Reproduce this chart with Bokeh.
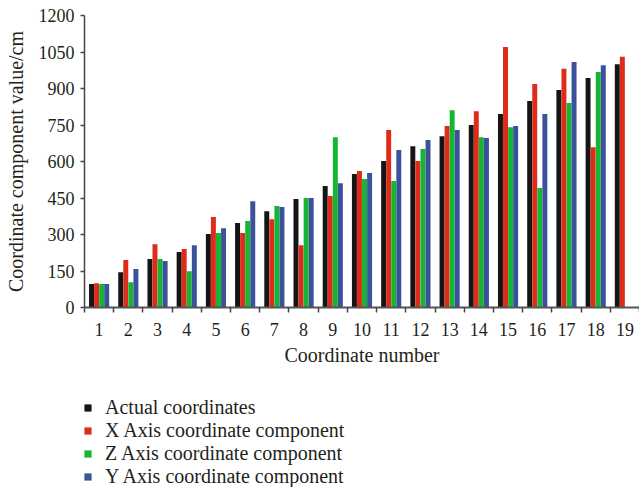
from bokeh.plotting import figure
from bokeh.layouts import column
from bokeh.models import ColumnDataSource, Range1d, FixedTicker, Legend, LegendItem
from bokeh.transform import dodge
from bokeh.embed import file_html
from bokeh.resources import INLINE

numbers = list(range(1, 20))
tick_labels = [str(n) for n in numbers]
actual = [97, 145, 199, 228, 302, 347, 396, 446, 499, 549, 602, 663, 704, 750, 795, 849, 894, 943, 1000]
x_comp = [100, 195, 260, 240, 372, 306, 363, 256, 458, 561, 729, 602, 746, 807, 1071, 919, 981, 659, 1030]
z_comp = [97, 104, 199, 149, 306, 355, 417, 450, 700, 528, 520, 651, 811, 700, 741, 491, 840, 968, None]
y_comp = [97, 158, 191, 256, 326, 437, 413, 450, 511, 553, 647, 688, 729, 697, 746, 795, 1009, 996, None]

series_names = ["Actual coordinates", "X Axis coordinate component",
                "Z Axis coordinate component", "Y Axis coordinate component"]
series_values = [actual, x_comp, z_comp, y_comp]
series_colors = ["#151515", "#dd2c1a", "#17b534", "#3a5299"]
offsets = [-0.26, -0.087, 0.087, 0.26]

FONT = "Liberation Serif"
TXT = "#231f20"

main = figure(width=639, height=390, output_backend="svg", toolbar_location=None,
              x_range=Range1d(0.5, 19.5), y_range=Range1d(0, 1200),
              min_border_left=84, min_border_right=0, min_border_top=15, min_border_bottom=83)
main.outline_line_color = None
main.grid.visible = False

leg = figure(width=639, height=97, output_backend="svg", toolbar_location=None,
             x_range=Range1d(0, 1), y_range=Range1d(0, 1),
             x_axis_type=None, y_axis_type=None,
             min_border_left=0, min_border_right=0, min_border_top=0, min_border_bottom=0)
leg.outline_line_color = None
leg.grid.visible = False

items = []
for name, vals, color, off in zip(series_names, series_values, series_colors, offsets):
    xs = [n for n, v in zip(numbers, vals) if v is not None]
    ys = [v for v in vals if v is not None]
    src = ColumnDataSource(dict(x=xs, top=ys))
    main.vbar(x=dodge("x", off), top="top", bottom=0, width=0.17, source=src,
              fill_color=color, line_color=None)
    # legend proxy (placed outside the visible range of the legend strip)
    lr = leg.vbar(x=[-10], top=[0], bottom=[0], width=0.1, fill_color=color, line_color=None)
    items.append(LegendItem(label=name, renderers=[lr]))

xa = main.xaxis[0]
xa.ticker = FixedTicker(ticks=numbers, minor_ticks=[n - 0.5 for n in numbers] + [19.5])
xa.major_label_overrides = {n: s for n, s in zip(numbers, tick_labels)}
xa.major_tick_out = 0
xa.major_tick_in = 0
xa.minor_tick_out = 5
xa.minor_tick_in = 0
xa.minor_tick_line_color = "#444444"
xa.minor_tick_line_width = 1.5
xa.axis_line_color = "#555555"
xa.axis_line_width = 2
xa.major_label_standoff = 10
xa.major_label_text_font = FONT
xa.major_label_text_font_size = "18px"
xa.major_label_text_color = TXT
xa.axis_label = "Coordinate number"
xa.axis_label_text_font = FONT
xa.axis_label_text_font_size = "20px"
xa.axis_label_text_font_style = "normal"
xa.axis_label_text_color = TXT
xa.axis_label_standoff = 5

ya = main.yaxis[0]
ya.ticker = FixedTicker(ticks=[0, 150, 300, 450, 600, 750, 900, 1050, 1200], minor_ticks=[])
ya.major_tick_out = 4
ya.major_tick_in = 0
ya.major_tick_line_color = "#444444"
ya.major_tick_line_width = 1.5
ya.axis_line_color = "#444444"
ya.axis_line_width = 1.5
ya.major_label_standoff = 6
ya.major_label_text_font = FONT
ya.major_label_text_font_size = "18px"
ya.major_label_text_color = TXT
ya.axis_label = "Coordinate component value/cm"
ya.axis_label_text_font = FONT
ya.axis_label_text_font_size = "20px"
ya.axis_label_text_font_style = "normal"
ya.axis_label_text_color = TXT
ya.axis_label_standoff = 9

legend = Legend(items=items, location=(-1, -1), orientation="vertical",
                padding=0, margin=0, spacing=0, label_height=21,
                glyph_width=9, glyph_height=9, label_standoff=13,
                label_text_font=FONT, label_text_font_size="20px", label_text_color=TXT,
                border_line_color=None, background_fill_alpha=0)
leg.add_layout(legend, "center")

p = column(main, leg, spacing=0)
open("out.html", "w").write(file_html(p, INLINE))
